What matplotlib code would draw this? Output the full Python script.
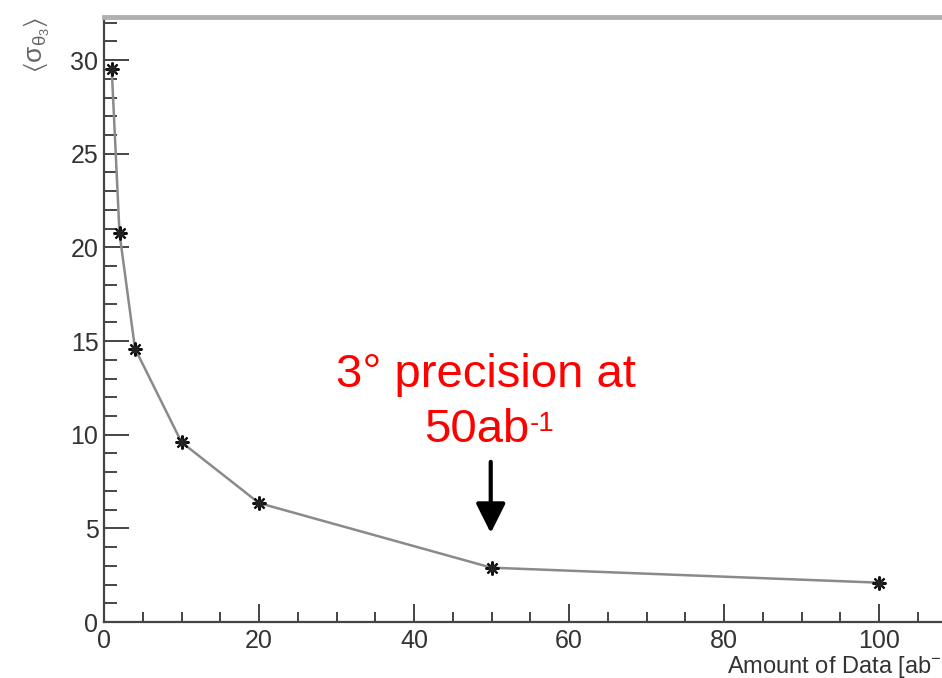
import numpy as np
import matplotlib
matplotlib.use("Agg")
import matplotlib.pyplot as plt
from matplotlib.ticker import MultipleLocator

plt.rcParams["font.family"] = ["Liberation Sans", "DejaVu Sans"]
plt.rcParams["mathtext.default"] = "regular"

# resolution vs integrated luminosity
data_amount = [1, 2, 4, 10, 20, 50, 100]
sigma_theta = [29.5, 20.75, 14.6, 9.6, 6.35, 2.9, 2.1]

x_ticks = [0, 20, 40, 60, 80, 100]
y_ticks = [0, 5, 10, 15, 20, 25, 30]

W, H = 942, 678
fig = plt.figure(figsize=(W / 100, H / 100), dpi=100)

# ROOT-style frame; x range runs a little past the right edge
x0, y0 = 104, 622
px_x = 7.75
px_y = 18.73
xmax, ymax = 110, (y0 - 17) / px_y
ax = fig.add_axes([x0 / W, (H - y0) / H, xmax * px_x / W, (y0 - 17) / H])

ax.plot(data_amount, sigma_theta, color="#8a8a8a", lw=1.8, zorder=2)
ax.plot(data_amount, sigma_theta, ls="none", marker=(8, 2, 0), ms=10,
        mew=1.5, color="#111111", zorder=3)
ax.plot(data_amount, sigma_theta, ls="none", marker="s", ms=5,
        color="#222222", zorder=3)

ax.set_xlim(0, xmax)
ax.set_ylim(0, ymax)
ax.set_xticks(x_ticks)
ax.set_yticks(y_ticks)
ax.xaxis.set_minor_locator(MultipleLocator(5))
ax.yaxis.set_minor_locator(MultipleLocator(1))

ax.tick_params(axis="both", which="both", direction="in", colors="#444444",
               labelcolor="#333333", labelsize=18)
ax.tick_params(axis="x", which="major", length=13, width=1.4, pad=5)
ax.tick_params(axis="x", which="minor", length=7, width=1.4)
ax.tick_params(axis="y", which="major", length=18, width=1.4, pad=4)
ax.tick_params(axis="y", which="minor", length=9, width=1.4)
ax.tick_params(top=False, right=False, which="both")

for side in ("left", "bottom"):
    ax.spines[side].set_color("#444444")
    ax.spines[side].set_linewidth(1.6)
ax.spines["top"].set_color("#b0b0b0")
ax.spines["top"].set_linewidth(3.5)
ax.spines["right"].set_visible(False)

# axis titles
fig.text(727 / W, 1 - 666 / H, "Amount of Data [ab$^{-1}$]", fontsize=17,
         color="#333333", ha="left", va="center")
fig.text(37 / W, 1 - 45 / H, r"$\langle\sigma_{\theta_3}\rangle$",
         rotation=90, ha="center", va="center", fontsize=19, color="#666666")

# annotation for the 50 ab^-1 point
ax.text(49.3, 12.55, "3° precision at", color="red", fontsize=34,
        ha="center", va="baseline")
t2 = ax.text(54.9, 9.6, "50ab", color="red", fontsize=34,
             ha="right", va="baseline")
ax.annotate("-1", xy=(1.0, 0.93), xycoords=t2, color="red", fontsize=20,
            ha="left", va="top")
ax.annotate("", xy=(49.9, 4.75), xytext=(49.9, 8.55),
            arrowprops=dict(arrowstyle="-|>", lw=3, color="black",
                            mutation_scale=45, shrinkA=0, shrinkB=0))

fig.savefig("out.png", dpi=100)
